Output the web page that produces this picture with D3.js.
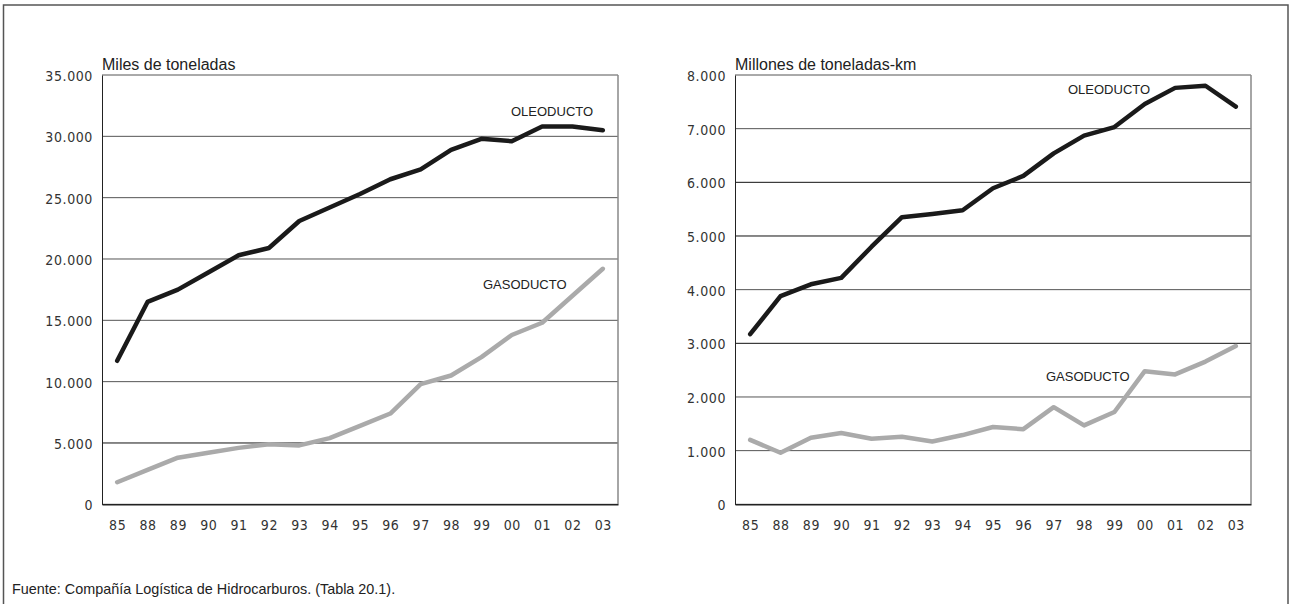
<!DOCTYPE html>
<html>
<head>
    <meta charset="utf-8">
    <title>Oleoducto y gasoducto</title>
    <script src="https://d3js.org/d3.v7.min.js"></script>
    <style>
        body { margin: 0; background: #fff; }
        svg { display: block; font-family: "Liberation Sans", Arial, sans-serif; }
        .tick text { font-family: "Liberation Sans Narrow", "DejaVu Sans Condensed", sans-serif; font-size: 14px; letter-spacing: 0.6px; fill: #333; }
    </style>
</head>
<body>
    <svg id="chart"></svg>
    <script>
        // years on the x axis
        const years = ["85", "88", "89", "90", "91", "92", "93", "94", "95", "96", "97", "98", "99", "00", "01", "02", "03"];

        // left chart: miles de toneladas
        const oleoToneladas = [11700, 16500, 17500, 18900, 20300, 20900, 23100, 24200, 25300, 26500, 27300, 28900, 29800, 29600, 30800, 30800, 30500];
        const gasToneladas = [1800, 2800, 3800, 4200, 4600, 4900, 4800, 5400, 6400, 7400, 9800, 10500, 12000, 13800, 14800, 17000, 19200];
        const ticksToneladas = [0, 5000, 10000, 15000, 20000, 25000, 30000, 35000];

        // right chart: millones de toneladas-km
        const oleoTonKm = [3170, 3880, 4100, 4220, 4800, 5350, 5410, 5480, 5890, 6120, 6540, 6870, 7030, 7460, 7760, 7800, 7410];
        const gasTonKm = [1200, 960, 1240, 1330, 1220, 1260, 1170, 1290, 1440, 1400, 1810, 1470, 1720, 2480, 2420, 2660, 2950];
        const ticksTonKm = [0, 1000, 2000, 3000, 4000, 5000, 6000, 7000, 8000];

        const fmt = d3.format(",.0f");
        const miles = v => fmt(v).replace(/,/g, ".");

        const svg = d3.select("#chart")
            .attr("width", 1290)
            .attr("height", 604);

        // outer frame (open at the bottom)
        svg.append("path")
            .attr("d", "M3.5,604 V5 H1288 V604")
            .attr("fill", "none")
            .attr("stroke", "#555")
            .attr("stroke-width", 1.5);

        function drawPanel(opts) {
            const g = svg.append("g").attr("transform", `translate(${opts.left},75)`);
            const w = 516, h = 429.3;

            const x = d3.scalePoint().domain(years).range([0, w]).padding(0.5);
            const y = d3.scaleLinear().domain([0, opts.max]).range([h, 0]);

            // gridlines
            g.append("g")
                .selectAll("line")
                .data(opts.ticks)
                .join("line")
                .attr("x1", 0)
                .attr("x2", w)
                .attr("y1", d => y(d))
                .attr("y2", d => y(d))
                .attr("stroke", d => d === 5000 || d === 6000 || d === 3000 ? "#111" : "#555")
                .attr("stroke-width", 1);

            // right side of the frame
            g.append("line")
                .attr("x1", w).attr("x2", w)
                .attr("y1", 0).attr("y2", h)
                .attr("stroke", "#888")
                .attr("stroke-width", 1.5);

            const yAxis = g.append("g")
                .call(d3.axisLeft(y).tickValues(opts.ticks).tickFormat(miles).tickSize(0).tickPadding(9));
            yAxis.select(".domain").attr("stroke", "#222");
            yAxis.selectAll(".tick text").attr("dy", "0.4em");

            const xAxis = g.append("g")
                .attr("transform", `translate(0,${h})`)
                .call(d3.axisBottom(x).tickSize(0).tickPadding(16));
            xAxis.select(".domain").attr("stroke", "#222").attr("stroke-width", 1.5);

            const line = d3.line()
                .x((d, i) => x(years[i]))
                .y(d => y(d));

            g.append("path")
                .datum(opts.gas)
                .attr("d", line)
                .attr("fill", "none")
                .attr("stroke", "#aaa")
                .attr("stroke-width", 4.5)
                .attr("stroke-linejoin", "round")
                .attr("stroke-linecap", "round");

            g.append("path")
                .datum(opts.oleo)
                .attr("d", line)
                .attr("fill", "none")
                .attr("stroke", "#1a1a1a")
                .attr("stroke-width", 4.5)
                .attr("stroke-linejoin", "round")
                .attr("stroke-linecap", "round");

            // unit title
            g.append("text")
                .attr("x", 0)
                .attr("y", -5)
                .attr("font-size", "16px")
                .attr("fill", "#222")
                .text(opts.title);

            // series labels
            g.append("text")
                .attr("x", opts.oleoLabel[0])
                .attr("y", opts.oleoLabel[1])
                .attr("font-size", "13px")
                .attr("fill", "#222")
                .text("OLEODUCTO");

            g.append("text")
                .attr("x", opts.gasLabel[0])
                .attr("y", opts.gasLabel[1])
                .attr("font-size", "13px")
                .attr("fill", "#222")
                .text("GASODUCTO");
        }

        drawPanel({
            left: 102, max: 35000, ticks: ticksToneladas,
            oleo: oleoToneladas, gas: gasToneladas,
            title: "Miles de toneladas",
            oleoLabel: [409, 41], gasLabel: [381, 214]
        });

        drawPanel({
            left: 735, max: 8000, ticks: ticksTonKm,
            oleo: oleoTonKm, gas: gasTonKm,
            title: "Millones de toneladas-km",
            oleoLabel: [333, 19], gasLabel: [311, 306]
        });

        svg.append("text")
            .attr("x", 12)
            .attr("y", 594)
            .attr("font-size", "14.4px")
            .attr("fill", "#222")
            .text("Fuente: Compañía Logística de Hidrocarburos. (Tabla 20.1).");
    </script>
</body>
</html>
